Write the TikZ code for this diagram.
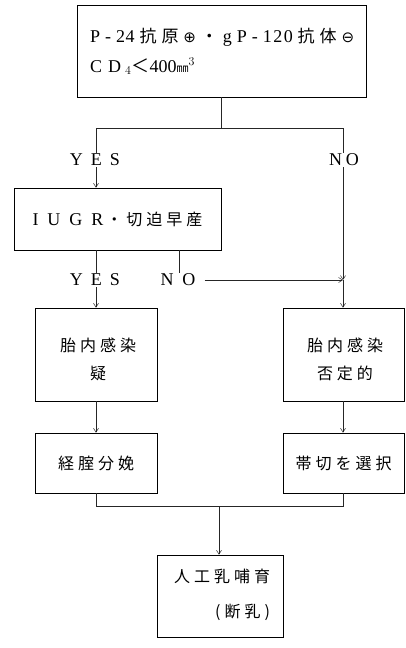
\documentclass[tikz,border=0pt]{standalone}
\usepackage{fontspec}
\setmainfont{Liberation Serif}
\newfontfamily\cjk[LetterSpace=25]{Noto Sans CJK JP}
\newfontfamily\cjkn{Noto Sans CJK JP}
\newfontfamily\dvs{DejaVu Sans}
\usetikzlibrary{arrows.meta}
\begin{document}
\begin{tikzpicture}[x=1pt,y=-1pt,
  box/.style={draw, line width=0.6pt, rectangle, inner sep=0pt},
  lbl/.style={inner sep=1pt, font=\fontsize{18}{20}\selectfont},
  txt/.style={inner sep=0pt, anchor=base west},
  ln/.style={line width=0.6pt, draw=black!85},
  arr/.style={ln, -{Straight Barb[length=4pt,width=5pt,line width=0.5pt]}}]
\useasboundingbox (0,0) rectangle (406,648);
% boxes
\node[box, minimum width=289pt, minimum height=92pt] (top) at (221.5,51) {};
\node[txt, font=\fontsize{18}{20}\selectfont] (t1) at (90,42)
  {\makebox[264pt][s]{P\hfil-\hfil2\kern0.5pt4\hfil{\cjkn\fontsize{17}{18}\selectfont 抗\hfil 原}\hfil{\dvs\fontsize{15}{18}\selectfont ⊕}\hfil{\cjkn\fontsize{17}{18}\selectfont ・}\hfil g\hfil P\hfil -\hfil 1\kern1.5pt2\kern1.5pt0\hfil{\cjkn\fontsize{17}{18}\selectfont 抗\hfil 体}\hfil{\dvs\fontsize{15}{18}\selectfont ⊖}}};
\node[txt, font=\fontsize{18}{20}\selectfont] (t2) at (90,72)
  {C\hspace{6pt}D\hspace{4pt}$_4${\cjkn\fontsize{18}{18}\selectfont ＜}400{\cjkn\fontsize{12}{12}\selectfont ㎜}$^{3}$};
\node[box, minimum width=207pt, minimum height=62pt, font=\fontsize{18}{18}\selectfont] (iugr) at (117.5,219)
  {I\hspace{9pt}U\hspace{9pt}G\hspace{9pt}R\hspace{3pt}{\cjkn\fontsize{16}{18}\selectfont ・\hspace{4pt}切\hspace{4pt}迫\hspace{4pt}早\hspace{4pt}産}};
\node[box, minimum width=122pt, minimum height=93pt] (a) at (96,354.5) {};
\node[txt, anchor=center, align=center, font=\fontsize{16}{28}\selectfont\cjk] (at) at (98,359) {胎内感染\\疑};
\node[box, minimum width=121pt, minimum height=93pt] (b) at (343.5,354.5) {};
\node[txt, anchor=center, align=center, font=\fontsize{16}{28}\selectfont\cjk] (bt) at (345,359) {胎内感染\\否定的};
\node[box, minimum width=122pt, minimum height=60pt, font=\fontsize{16}{18}\selectfont\cjk] (c) at (96,463)
  {経腟分娩};
\node[box, minimum width=121pt, minimum height=60pt, font=\fontsize{16}{18}\selectfont\cjk] (d) at (343.5,463)
  {帯切を選択};
\node[box, minimum width=126pt, minimum height=82pt] (e) at (220,596) {};
\node[txt, anchor=center, align=right, font=\fontsize{16}{35}\selectfont\cjk] (et) at (222,595) {人工乳哺育\\(断乳)};
% labels
\node[lbl] (yes1) at (95,160) {Y\hspace{8pt}E\hspace{8pt}S};
\node[lbl] (no1) at (344,160) {N\hspace{4pt}O};
\node[lbl] (yes2) at (95,280) {Y\hspace{8pt}E\hspace{8pt}S};
\node[lbl] (no2) at (178,280) {N\hspace{9pt}O};
% coordinates
\coordinate (t0) at (221,97);
\coordinate (br) at (221,128);
\coordinate (bl) at (96,128);
\coordinate (brr) at (343,128);
\coordinate (nojoin) at (343,280);
\coordinate (m1) at (96,250);
\coordinate (m2) at (179,250);
\coordinate (j) at (219,506);
% connectors
\draw[ln] (t0) -- (br);
\draw[ln] (bl) -- (brr);
\draw[ln] (bl) -- (yes1.north -| bl);
\draw[ln] (brr) -- (no1.north -| brr);
\draw[arr] (yes1.south -| bl) -- (iugr.north -| bl);
\draw[arr] (no1.south -| brr) -- (nojoin);
\draw[arr] (nojoin) -- (b.north -| nojoin);
\draw[ln] (m1) -- (yes2.north -| m1);
\draw[ln] (m2) -- (no2.north -| m2);
\draw[arr] ([xshift=8pt]no2.east) -- (nojoin);
\draw[arr] (yes2.south -| m1) -- (a.north -| m1);
\draw[arr] (a.south) -- (c.north);
\draw[arr] (b.south -| nojoin) -- (d.north -| nojoin);
\draw[ln] (c.south) |- (j);
\draw[ln] (d.south -| nojoin) |- (j);
\draw[arr] (j) -- (e.north -| j);
\end{tikzpicture}
\end{document}
